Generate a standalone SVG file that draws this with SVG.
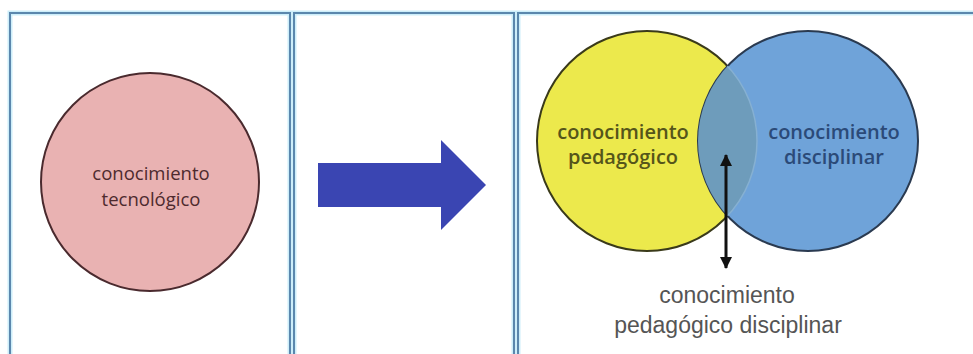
<svg xmlns="http://www.w3.org/2000/svg" width="973" height="354" viewBox="0 0 973 354">
<defs>
<style>
.frame{fill:none;stroke:#5b87ad;stroke-width:2}
.halo{fill:none;stroke:#cdeefa;stroke-width:5}
.lbl{font-family:"Open Sans","Liberation Sans",sans-serif;text-anchor:middle}
.cap{font-family:"Liberation Sans",Arial,sans-serif;text-anchor:middle;fill:#555;font-size:23px}
</style>
<marker id="ah" viewBox="0 0 12 12" refX="11" refY="6" markerWidth="12" markerHeight="12" markerUnits="userSpaceOnUse" orient="auto-start-reverse">
<path d="M0,0 L12,6 L0,12 Z" fill="#111"/>
</marker>
<clipPath id="clipY"><circle cx="647" cy="141" r="110"/></clipPath>
<clipPath id="clipB"><circle cx="808" cy="141" r="110"/></clipPath>
</defs>
<rect width="973" height="354" fill="#fff"/>
<g id="frames">
<path class="halo" d="M10,360 V13 H290 V360 M294,360 V13 H514 V360 M518,360 V13 H980"/>
<path class="frame" d="M10,360 V13 H290 V360 M294,360 V13 H514 V360 M518,360 V13 H980"/>
</g>
<g id="node-tecnologico">
<circle cx="150" cy="182" r="109" fill="#e9b2b2" stroke="#4a2a2e" stroke-width="2"/>
<text class="lbl" x="151" y="180" font-size="18.5" fill="#4e2a2e">conocimiento</text>
<text class="lbl" x="151" y="206" font-size="18.5" fill="#4e2a2e">tecnológico</text>
</g>
<g id="node-arrow">
<path d="M318,163 H441 V140 L486,185 L441,230 V207 H318 Z" fill="#3a45b2"/>
</g>
<g id="node-pedagogico">
<circle cx="647" cy="141" r="110" fill="#ece94c" stroke="#3a3a1a" stroke-width="2"/>
</g>
<g id="node-disciplinar">
<circle cx="808" cy="141" r="110" fill="#6fa3d9" stroke="#2a3a50" stroke-width="2"/>
</g>
<g id="node-interseccion">
<circle cx="808" cy="141" r="110" fill="#6e9cbb" clip-path="url(#clipY)"/>
<circle cx="647" cy="141" r="110" fill="none" stroke="#86b0d2" stroke-width="1.5" clip-path="url(#clipB)"/>
</g>
<g id="labels">
<text class="lbl" x="623" y="139" font-size="20" font-weight="600" fill="#55551a">conocimiento</text>
<text class="lbl" x="623" y="164" font-size="20" font-weight="600" fill="#55551a">pedagógico</text>
<text class="lbl" x="834" y="139" font-size="20" font-weight="600" fill="#2b4a78">conocimiento</text>
<text class="lbl" x="834" y="164" font-size="20" font-weight="600" fill="#2b4a78">disciplinar</text>
</g>
<g id="connectors">
<line x1="726" y1="155" x2="726" y2="268" stroke="#111" stroke-width="3" marker-start="url(#ah)" marker-end="url(#ah)"/>
</g>
<g id="node-pcd">
<text class="cap" x="727" y="303">conocimiento</text>
<text class="cap" x="728" y="333">pedagógico disciplinar</text>
</g>
</svg>
